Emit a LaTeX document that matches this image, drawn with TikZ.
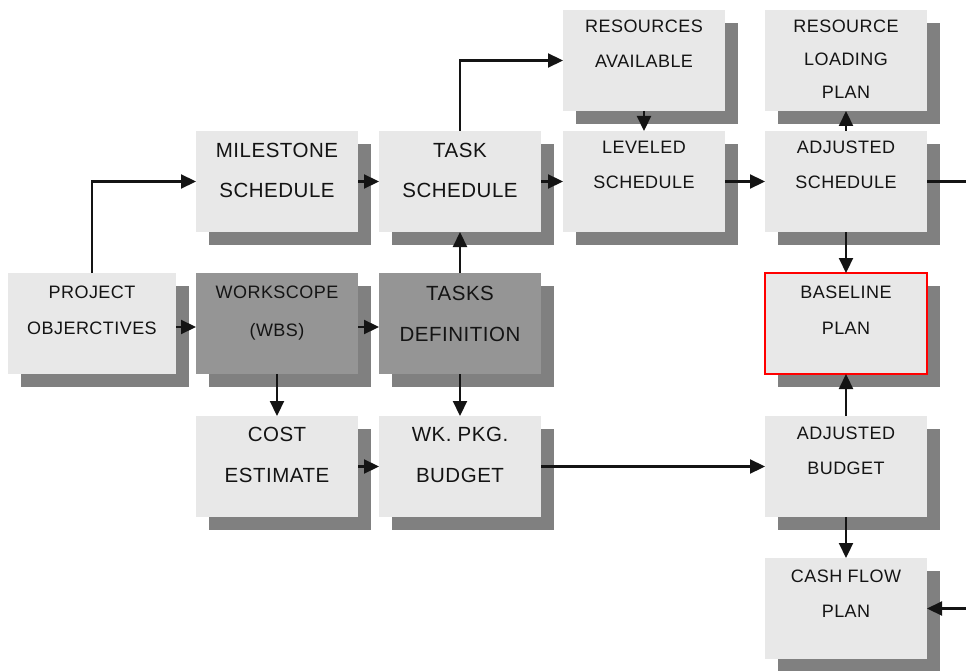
\documentclass[tikz,border=0pt]{standalone}
\usepackage{fontspec}
\setmainfont{Liberation Sans}
\usetikzlibrary{arrows.meta,shadows}
\definecolor{boxfill}{HTML}{E8E8E8}
\definecolor{darkfill}{HTML}{959595}
\definecolor{shadowgray}{HTML}{808080}
\definecolor{txtcol}{HTML}{141414}
\newcommand{\bxt}[5]{\parbox[c][101pt][t]{#1pt}{\centering\fontsize{#4}{#3}\selectfont\addfontfeature{LetterSpace=2.5}\rule{0pt}{#2pt}#5\par}}
\begin{document}
\begin{tikzpicture}[x=1pt,y=-1pt,
  bx/.style={rectangle, inner sep=0pt, outer sep=0pt, fill=boxfill, text=txtcol,
    drop shadow={shadow xshift=13pt, shadow yshift=-13pt, fill=shadowgray, opacity=1}},
  dk/.style={bx, fill=darkfill},
  redbx/.style={bx, draw=red, line width=1.3pt},
  arr/.style={line width=2.2pt, draw=txtcol, -{Triangle[length=15pt,width=14pt]}},
  ln/.style={line width=2.2pt, draw=txtcol}]
\useasboundingbox (0,0) rectangle (966,671);
% row 1
\node[bx] (ra) at (644,60.5) {\bxt{162}{23}{35}{18}{RESOURCES\\AVAILABLE}};
\node[bx] (rl) at (846,60.5) {\bxt{162}{23}{33}{18}{RESOURCE\\LOADING\\PLAN}};
% row 2
\node[bx] (ms) at (277,181.5) {\bxt{162}{27}{40}{20.5}{MILESTONE\\SCHEDULE}};
\node[bx] (ts) at (460,181.5) {\bxt{162}{27}{40}{20.5}{TASK\\SCHEDULE}};
\node[bx] (ls) at (644,181.5) {\bxt{162}{23}{35}{18}{LEVELED\\SCHEDULE}};
\node[bx] (as) at (846,181.5) {\bxt{162}{23}{35}{18}{ADJUSTED\\SCHEDULE}};
% row 3
\node[bx] (po) at (92,323.5) {\bxt{168}{25}{36}{18}{PROJECT\\OBJERCTIVES}};
\node[dk] (ws) at (277,323.5) {\bxt{162}{25}{38}{18}{WORKSCOPE\\(WBS)}};
\node[dk] (td) at (460,323.5) {\bxt{162}{27}{41}{20.5}{TASKS\\DEFINITION}};
\node[redbx] (bp) at (846,323.5) {\bxt{162}{25}{36}{18}{BASELINE\\PLAN}};
% row 4
\node[bx] (ce) at (277,466.5) {\bxt{162}{25}{41}{20.5}{COST\\ESTIMATE}};
\node[bx] (wb) at (460,466.5) {\bxt{162}{25}{41}{20.5}{WK. PKG.\\BUDGET}};
\node[bx] (ab) at (846,466.5) {\bxt{162}{23}{35}{18}{ADJUSTED\\BUDGET}};
% row 5
\node[bx] (cf) at (846,608.5) {\bxt{162}{24}{35}{18}{CASH FLOW\\PLAN}};
% free ends
\coordinate (outas) at (966,181.5);
\coordinate (incf) at (966,608.5);
% connectors
\draw[arr] (po.north) |- (ms.west);
\draw[arr] ([yshift=-3.5pt]po.east) -- ([yshift=-3.5pt]ws.west);
\draw[arr] ([yshift=-3.5pt]ws.east) -- ([yshift=-3.5pt]td.west);
\draw[arr] (ms.east) -- (ts.west);
\draw[arr] (ts.north) |- (ra.west);
\draw[arr] (ts.east) -- (ls.west);
\draw[arr] (ra.south) -- (ls.north);
\draw[arr] (ls.east) -- (as.west);
\draw[arr] (as.north) -- (rl.south);
\draw[ln] (as.east) -- (outas);
\draw[arr] (as.south) -- (bp.north);
\draw[arr] (td.north) -- (ts.south);
\draw[arr] (ws.south) -- (ce.north);
\draw[arr] (td.south) -- (wb.north);
\draw[arr] (ce.east) -- (wb.west);
\draw[arr] (wb.east) -- (ab.west);
\draw[arr] (ab.north) -- (bp.south);
\draw[arr] (ab.south) -- (cf.north);
\draw[arr] (incf) -- (cf.east);
\end{tikzpicture}
\end{document}
